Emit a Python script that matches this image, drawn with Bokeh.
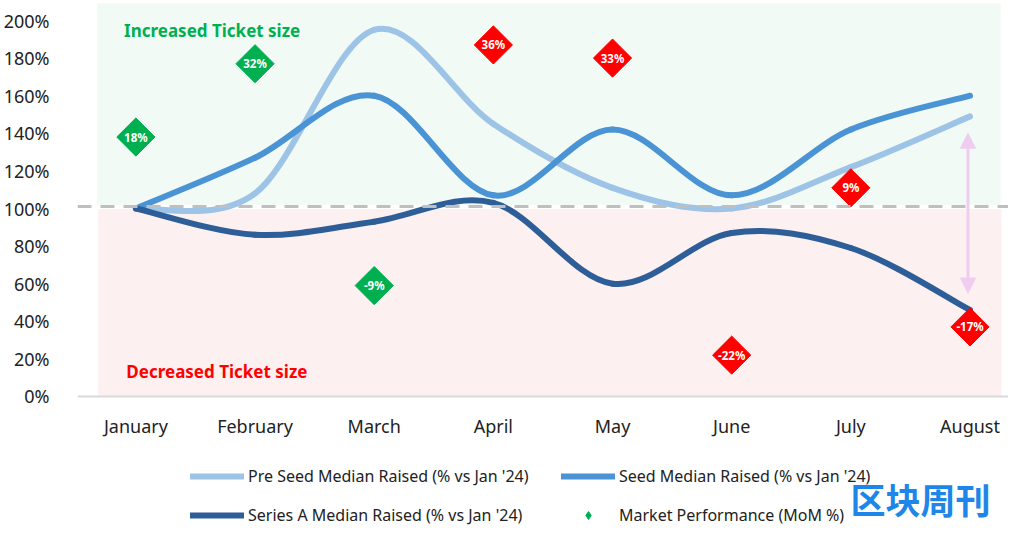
import numpy as np
from bokeh.plotting import figure
from bokeh.models import (ColumnDataSource, Range1d, FixedTicker, Label, Legend, LegendItem,
                          Arrow, NormalHead, BoxAnnotation, Span)
from bokeh.core.properties import value
from bokeh.embed import file_html
from bokeh.resources import INLINE

# ---------------- data ----------------
months = ["January", "February", "March", "April", "May", "June", "July", "August"]
pre_seed = [1.00, 1.08, 1.95, 1.45, 1.11, 1.00, 1.22, 1.49]
seed = [1.00, 1.27, 1.60, 1.07, 1.42, 1.07, 1.42, 1.60]
series_a = [1.00, 0.86, 0.93, 1.03, 0.60, 0.87, 0.79, 0.46]
market_pos = [1.38, 1.77, 0.59, 1.87, 1.80, 0.22, 1.11, 0.37]
market_labels = ["18%", "32%", "-9%", "36%", "33%", "-22%", "9%", "-17%"]
market_up = [True, True, True, False, False, False, False, False]
y_ticks = [0.0, 0.2, 0.4, 0.6, 0.8, 1.0, 1.2, 1.4, 1.6, 1.8, 2.0]
y_tick_labels = ["0%", "20%", "40%", "60%", "80%", "100%", "120%", "140%", "160%", "180%", "200%"]
baseline = 1.0
series_names = ["Pre Seed Median Raised (% vs Jan '24)",
                "Seed Median Raised (% vs Jan '24)",
                "Series A Median Raised (% vs Jan '24)",
                "Market Performance (MoM %)"]

# ---------------- styles ----------------
C_PRE = "#9DC3E6"
C_SEED = "#4A93D4"
C_A = "#2E5E98"
C_GREEN = "#00B050"
C_RED = "#FF0000"
C_PINK = "#EFCDEF"
FONT = "Noto Sans"

xs = list(range(len(months)))


def smooth(xv, yv):
    n = len(xv)
    d = {k: [] for k in ["x0", "y0", "x1", "y1", "cx0", "cy0", "cx1", "cy1"]}
    for i in range(n - 1):
        a = i - 1 if i > 0 else i
        b = i + 2 if i + 2 < n else i + 1
        d["x0"].append(xv[i]); d["y0"].append(yv[i])
        d["x1"].append(xv[i + 1]); d["y1"].append(yv[i + 1])
        d["cx0"].append(xv[i] + (xv[i + 1] - xv[a]) / 6.0)
        d["cy0"].append(yv[i] + (yv[i + 1] - yv[a]) / 6.0)
        d["cx1"].append(xv[i + 1] - (xv[b] - xv[i]) / 6.0)
        d["cy1"].append(yv[i + 1] - (yv[b] - yv[i]) / 6.0)
    return ColumnDataSource(d)


p = figure(width=1008, height=526, x_range=Range1d(-0.49, 7.323), y_range=Range1d(-0.6915, 2.1064),
           output_backend="svg", toolbar_location=None,
           min_border_left=68, min_border_right=0, min_border_top=0, min_border_bottom=0)
p.outline_line_color = None
p.xgrid.visible = False
p.ygrid.visible = False

# background bands
p.add_layout(BoxAnnotation(left=-0.324, right=7.257, bottom=1.02, top=2.09,
                           fill_color="#F1FAF5", fill_alpha=1, line_color=None, level="underlay"))
p.add_layout(BoxAnnotation(left=-0.316, right=7.265, bottom=0, top=0.998,
                           fill_color="#FDF0F1", fill_alpha=1, line_color=None, level="underlay"))

# smooth lines
for data, col in [(pre_seed, C_PRE), (seed, C_SEED), (series_a, C_A)]:
    p.bezier(x0="x0", y0="y0", x1="x1", y1="y1", cx0="cx0", cy0="cy0", cx1="cx1", cy1="cy1",
             source=smooth(xs, data), line_color=col, line_width=6, line_cap="round")

# dashed baseline
p.add_layout(Span(location=baseline * 1.01, dimension="width", line_color="#BFBFBF",
                  line_width=3, line_dash="14 9"))

# arrow
p.add_layout(Arrow(start=NormalHead(size=15, fill_color=C_PINK, line_color=C_PINK),
                   end=NormalHead(size=15, fill_color=C_PINK, line_color=C_PINK),
                   x_start=6.983, y_start=0.55, x_end=6.983, y_end=1.40,
                   line_color=C_PINK, line_width=3))

# market diamonds
msrc = ColumnDataSource(dict(x=xs, y=market_pos, t=market_labels,
                             c=[C_GREEN if u else C_RED for u in market_up]))
dia = p.scatter(x="x", y="y", source=msrc, marker="square", angle=np.pi / 4, size=27,
                fill_color="c", line_color="c")
p.text(x="x", y="y", text="t", source=msrc, text_align="center", text_baseline="middle",
       text_color="white", text_font_size="11.5px", text_font_style="bold", text_font=value(FONT))

# zone labels
p.add_layout(Label(x=0.64, y=1.947, text="Increased Ticket size", text_align="center",
                   text_baseline="middle", text_color=C_GREEN, text_font_style="bold",
                   text_font_size="17px", text_font=FONT))
p.add_layout(Label(x=0.68, y=0.133, text="Decreased Ticket size", text_align="center",
                   text_baseline="middle", text_color=C_RED, text_font_style="bold",
                   text_font_size="17px", text_font=FONT))

# axes
p.yaxis.ticker = FixedTicker(ticks=y_ticks)
p.yaxis.major_label_overrides = {t: l for t, l in zip(y_ticks, y_tick_labels)}
p.yaxis.axis_line_color = None
p.yaxis.major_tick_line_color = None
p.yaxis.minor_tick_line_color = None
p.yaxis.major_label_standoff = 22
p.yaxis.major_label_text_font = FONT
p.yaxis.major_label_text_font_size = "18px"
p.yaxis.major_label_text_color = "#222222"

p.xaxis.fixed_location = 0
p.xaxis.ticker = FixedTicker(ticks=xs)
p.xaxis.major_label_overrides = {i: m for i, m in enumerate(months)}
p.xaxis.axis_line_color = "#D9D9D9"
p.xaxis.axis_line_width = 2
p.xaxis.major_tick_line_color = None
p.xaxis.minor_tick_line_color = None
p.xaxis.major_label_standoff = 12
p.xaxis.major_label_text_font = FONT
p.xaxis.major_label_text_font_size = "18px"
p.xaxis.major_label_text_color = "#222222"

# legend (renderers without visible data, used only for the legend glyphs)
blank = lambda: ColumnDataSource(dict(x=[np.nan], y=[np.nan]))
l1 = p.line(x="x", y="y", source=blank(), line_color=C_PRE, line_width=6, line_cap="round")
l2 = p.line(x="x", y="y", source=blank(), line_color=C_SEED, line_width=6, line_cap="round")
l3 = p.line(x="x", y="y", source=blank(), line_color=C_A, line_width=6, line_cap="round")
l4 = p.scatter(x="x", y="y", source=blank(), marker="diamond", size=12,
               fill_color=C_GREEN, line_color=C_GREEN)

positions = [(113, 39), (484, 39), (113, 0), (484, 0)]
for r, name, loc in zip([l1, l2, l3, l4], series_names, positions):
    lg = Legend(items=[LegendItem(label=name, renderers=[r])], location=loc,
                padding=0, margin=0, border_line_color=None, background_fill_alpha=0,
                glyph_width=54, glyph_height=20, label_standoff=4, label_height=20,
                label_text_font=FONT, label_text_font_size="16px",
                label_text_color="#222222")
    p.add_layout(lg, "center")

# watermark
p.add_layout(Label(x=6.584, y=-0.545, text="区块周刊", text_align="center", text_baseline="middle",
                   text_color="#1E86E8", text_font_size="35px", text_font="Noto Sans CJK SC",
                   text_font_style="bold"))

open("out.html", "w").write(file_html(p, INLINE))
